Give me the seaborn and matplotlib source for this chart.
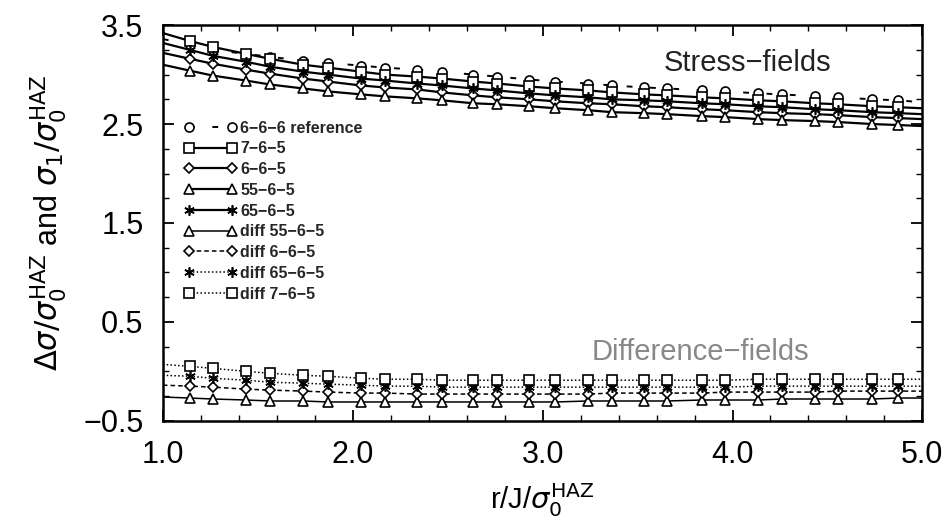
import matplotlib
matplotlib.use("Agg")
import matplotlib.pyplot as plt
import seaborn as sns
from matplotlib.ticker import AutoMinorLocator, FixedLocator
from matplotlib.lines import Line2D

# ---- data ----
r = [1.00, 1.142, 1.263, 1.437, 1.564, 1.738, 1.870, 2.043, 2.170, 2.339, 2.470, 2.634, 2.760, 2.929,
     3.066, 3.240, 3.366, 3.535, 3.656, 3.840, 3.962, 4.136, 4.262, 4.436, 4.557, 4.737, 4.874, 5.00]

ref_666 = [3.36, 3.30, 3.25, 3.21, 3.18, 3.14, 3.12, 3.09, 3.07, 3.05, 3.03, 3.00, 2.98, 2.95,
           2.93, 2.91, 2.89, 2.87, 2.86, 2.84, 2.83, 2.81, 2.80, 2.78, 2.77, 2.75, 2.74, 2.72]
s_765 = [3.42, 3.34, 3.28, 3.21, 3.16, 3.10, 3.07, 3.03, 3.00, 2.98, 2.96, 2.93, 2.91, 2.88,
         2.86, 2.84, 2.82, 2.80, 2.79, 2.77, 2.76, 2.74, 2.73, 2.71, 2.70, 2.68, 2.67, 2.66]
s_665 = [3.22, 3.16, 3.11, 3.05, 3.01, 2.96, 2.93, 2.89, 2.87, 2.85, 2.82, 2.79, 2.77, 2.75,
         2.73, 2.71, 2.70, 2.68, 2.67, 2.65, 2.64, 2.62, 2.61, 2.60, 2.59, 2.57, 2.56, 2.55]
s_5565 = [3.10, 3.04, 2.99, 2.94, 2.90, 2.86, 2.83, 2.80, 2.78, 2.76, 2.74, 2.71, 2.70, 2.68,
          2.66, 2.64, 2.62, 2.61, 2.60, 2.58, 2.57, 2.55, 2.54, 2.53, 2.52, 2.50, 2.49, 2.48]
s_6565 = [3.32, 3.25, 3.19, 3.13, 3.08, 3.03, 3.00, 2.96, 2.94, 2.91, 2.89, 2.86, 2.84, 2.81,
          2.79, 2.77, 2.75, 2.74, 2.73, 2.71, 2.70, 2.68, 2.67, 2.65, 2.64, 2.62, 2.61, 2.60]

d_5565 = [-0.26, -0.27, -0.28, -0.29, -0.30, -0.30, -0.31, -0.31, -0.31, -0.31, -0.31, -0.31, -0.31, -0.31,
          -0.31, -0.30, -0.30, -0.30, -0.30, -0.29, -0.29, -0.29, -0.28, -0.28, -0.28, -0.28, -0.27, -0.27]
d_665 = [-0.14, -0.15, -0.16, -0.18, -0.19, -0.20, -0.21, -0.22, -0.22, -0.23, -0.23, -0.23, -0.23, -0.23,
         -0.23, -0.23, -0.22, -0.22, -0.22, -0.22, -0.21, -0.21, -0.21, -0.21, -0.20, -0.20, -0.20, -0.20]
d_6565 = [-0.04, -0.05, -0.07, -0.09, -0.11, -0.12, -0.13, -0.14, -0.15, -0.15, -0.16, -0.16, -0.16, -0.16,
          -0.16, -0.16, -0.16, -0.16, -0.16, -0.16, -0.16, -0.15, -0.15, -0.15, -0.15, -0.15, -0.15, -0.15]
d_765 = [0.07, 0.05, 0.03, 0.00, -0.02, -0.04, -0.05, -0.07, -0.08, -0.08, -0.09, -0.09, -0.09, -0.09,
         -0.09, -0.09, -0.09, -0.09, -0.09, -0.09, -0.09, -0.08, -0.08, -0.08, -0.08, -0.08, -0.08, -0.08]

labels = ["6−6−6 reference", "7−6−5", "6−6−5", "55−6−5", "65−6−5",
          "diff 55−6−5", "diff 6−6−5", "diff 65−6−5", "diff 7−6−5"]

x_ticks = [1.0, 2.0, 3.0, 4.0, 5.0]
y_ticks = [-0.5, 0.5, 1.5, 2.5, 3.5]

# ---- style ----
sns.set_theme(style="ticks")
plt.rcParams["font.family"] = ["Liberation Sans", "DejaVu Sans"]
plt.rcParams["mathtext.fontset"] = "dejavusans"

fig, ax = plt.subplots(figsize=(9.47, 5.24), dpi=100)
fig.subplots_adjust(left=0.172, right=0.974, bottom=0.197, top=0.952)

asterisk = (6, 2, 0)
series = [
    (ref_666, "o", (0, (3, 9)), 1.4),
    (s_765, "s", "-", 1.6),
    (s_665, "D", "-", 1.6),
    (s_5565, "^", "-", 1.6),
    (s_6565, asterisk, "-", 1.6),
    (d_5565, "^", "-", 1.1),
    (d_665, "D", (0, (3, 2)), 1.1),
    (d_6565, asterisk, (0, (1, 1.5)), 1.1),
    (d_765, "s", (0, (1, 1.5)), 1.1),
]

handles = []
for (vals, mk, ls, lw), lab in zip(series, labels):
    ms = 4.8 if mk == "D" else (7.5 if mk == asterisk else 6.5)
    sns.lineplot(x=r, y=vals, ax=ax, color="black", linestyle=ls, linewidth=lw,
                 marker=mk, markersize=ms, markerfacecolor="white",
                 markeredgecolor="black", markeredgewidth=1.2,
                 markevery=slice(1, len(r) - 1), estimator=None, sort=False)
    handles.append(Line2D([0], [0], color="black", linestyle=ls, linewidth=lw,
                          marker=mk, markersize=ms, markerfacecolor="white",
                          markeredgecolor="black", markeredgewidth=1.2))

ax.set_xlim(1.0, 5.0)
ax.set_ylim(-0.5, 3.5)
ax.xaxis.set_major_locator(FixedLocator(x_ticks))
ax.yaxis.set_major_locator(FixedLocator(y_ticks))
ax.set_xticklabels([f"{v:.1f}" for v in x_ticks])
ax.set_yticklabels([f"{v:.1f}".replace("-", "−") for v in y_ticks])
ax.xaxis.set_minor_locator(AutoMinorLocator(5))
ax.yaxis.set_minor_locator(AutoMinorLocator(4))
ax.tick_params(which="both", direction="in", top=True, right=True, colors="black")
ax.tick_params(which="major", length=8, width=1.3, labelsize=22, pad=14)
ax.tick_params(which="minor", length=4, width=1.0)
for sp in ax.spines.values():
    sp.set_linewidth(1.8)
    sp.set_color("black")

ax.set_xlabel(r"r/J/$\sigma_0^{\mathrm{HAZ}}$", fontsize=21, color="black", labelpad=8)
ax.set_ylabel(r"$\Delta\sigma/\sigma_0^{\mathrm{HAZ}}$ and $\sigma_1/\sigma_0^{\mathrm{HAZ}}$",
              fontsize=22, color="black", labelpad=10)

ax.text(4.08, 3.12, "Stress−fields", fontsize=21, color="#222222", ha="center", va="center")
ax.text(3.83, 0.20, "Difference−fields", fontsize=21, color="#888888", ha="center", va="center")

ax.legend(handles=handles, labels=labels, loc="upper left", bbox_to_anchor=(0.02, 0.775),
          frameon=False, borderaxespad=0.0, handlelength=3.3, handletextpad=0.2,
          labelspacing=0.36, numpoints=2, prop={"size": 11.5, "weight": "bold"})

fig.savefig("out.png", dpi=100)
